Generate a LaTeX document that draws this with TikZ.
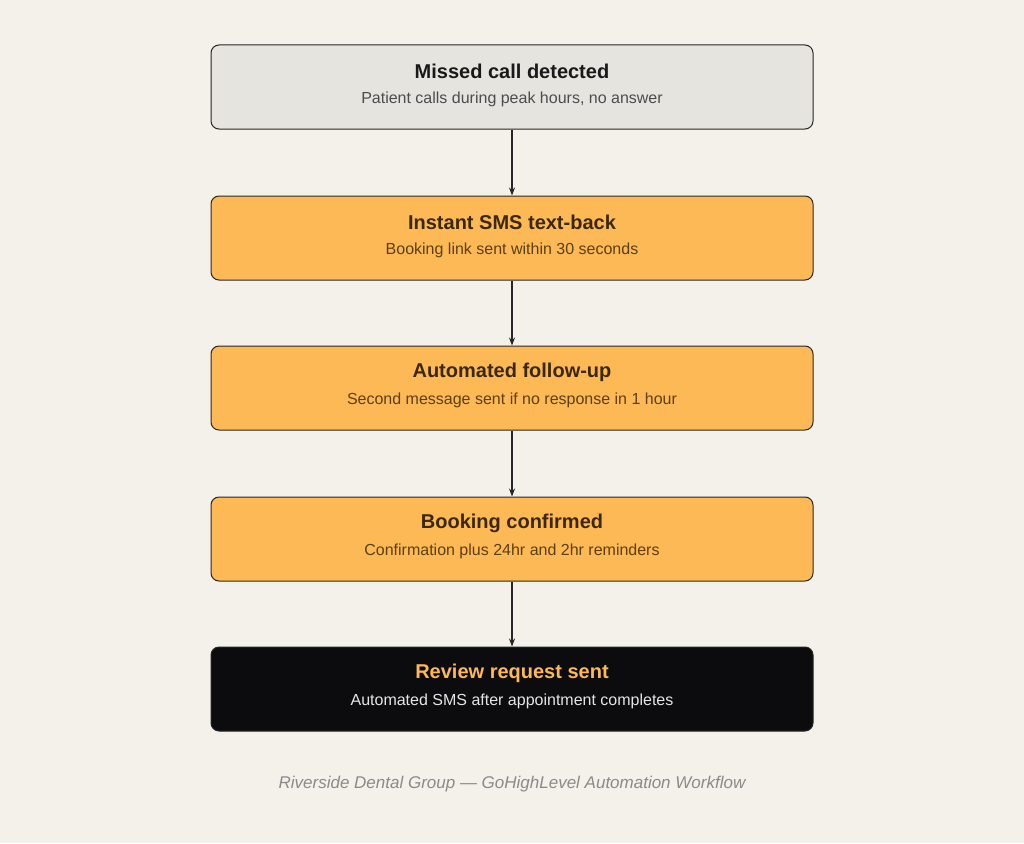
\documentclass[tikz,border=0pt]{standalone}
\usepackage{fontspec}
\usetikzlibrary{arrows.meta}
\setmainfont{Liberation Sans}
\definecolor{bg}{HTML}{F4F1EB}
\definecolor{greybox}{HTML}{E6E4DF}
\definecolor{orangebox}{HTML}{FDB955}
\definecolor{blackbox}{HTML}{0C0C0E}
\definecolor{brownt}{HTML}{3A2808}
\definecolor{browns}{HTML}{5C4010}
\definecolor{cap}{HTML}{8A8A8A}
\begin{document}
\begin{tikzpicture}[x=1pt,y=-1pt,
  box/.style={draw=black!85,line width=1pt,rounded corners=8pt,minimum width=602pt,minimum height=84pt},
  ttl/.style={font=\bfseries\fontsize{20}{24}\selectfont},
  sub/.style={font=\fontsize{16}{19}\selectfont},
  arr/.style={-{Stealth[length=8pt,width=6pt]},line width=1.3pt,draw=black!85}]
\fill[bg] (0,0) rectangle (1024,843);
\useasboundingbox (0,0) rectangle (1024,843);
\node[box,fill=greybox] (b1) at (512,87) {};
\node[box,fill=orangebox] (b2) at (512,238) {};
\node[box,fill=orangebox] (b3) at (512,388) {};
\node[box,fill=orangebox] (b4) at (512,539) {};
\node[box,fill=blackbox] (b5) at (512,689) {};
\node[ttl,text=black!90] (t1) at (512,71) {Missed call detected};
\node[sub,text=black!70] (s1) at (512,99) {Patient calls during peak hours, no answer};
\node[ttl,text=brownt] (t2) at (512,222) {Instant SMS text-back};
\node[sub,text=browns] (s2) at (512,250) {Booking link sent within 30 seconds};
\node[ttl,text=brownt] (t3) at (512,372) {Automated follow-up};
\node[sub,text=browns] (s3) at (512,400) {Second message sent if no response in 1 hour};
\node[ttl,text=brownt] (t4) at (512,523) {Booking confirmed};
\node[sub,text=browns] (s4) at (512,551) {Confirmation plus 24hr and 2hr reminders};
\node[ttl,text=orangebox] (t5) at (512,673) {Review request sent};
\node[sub,text=white!90!black] (s5) at (512,701) {Automated SMS after appointment completes};
\draw[arr] (b1.south) -- (b2.north);
\draw[arr] (b2.south) -- (b3.north);
\draw[arr] (b3.south) -- (b4.north);
\draw[arr] (b4.south) -- (b5.north);
\node[font=\itshape\fontsize{17}{20}\selectfont,text=cap] (c) at (512,784) {Riverside Dental Group — GoHighLevel Automation Workflow};
\end{tikzpicture}
\end{document}
